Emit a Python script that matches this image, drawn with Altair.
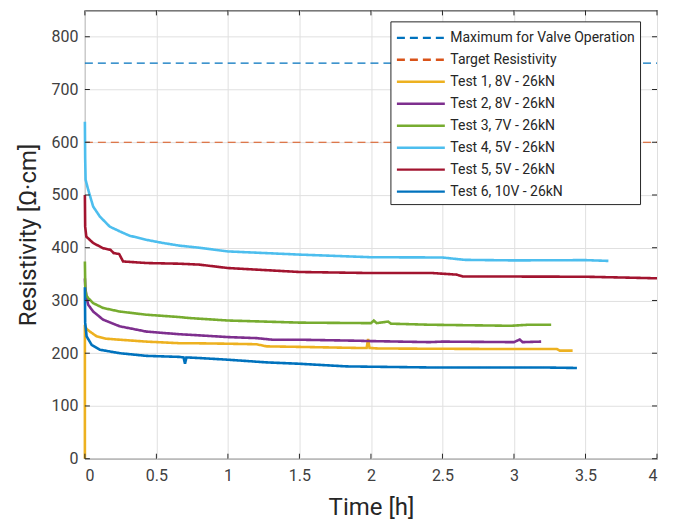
import altair as alt
import pandas as pd

FONT = "Roboto, Liberation Sans, sans-serif"

series_names = [
    "Maximum for Valve Operation",
    "Target Resistivity",
    "Test 1, 8V - 26kN",
    "Test 2, 8V - 26kN",
    "Test 3, 7V - 26kN",
    "Test 4, 5V - 26kN",
    "Test 5, 5V - 26kN",
    "Test 6, 10V - 26kN",
]
series_colors = ["#0072BD", "#D95319", "#EDB120", "#7E2F8E", "#77AC30", "#4DBEEE", "#A2142F", "#0072BD"]
series_dash = [[8, 5], [8, 5], [1, 0], [1, 0], [1, 0], [1, 0], [1, 0], [1, 0]]
series_width = [1.2, 1.2, 2.6, 2.6, 2.6, 2.6, 2.6, 2.6]

max_t = [0, 4]
max_v = [750, 750]
target_t = [0, 4]
target_v = [600, 600]

t1_t = [0, 0, 0.003, 0.012, 0.035, 0.082, 0.15, 0.244, 0.43, 0.66, 0.73, 1.0, 1.2, 1.27, 1.5, 1.9, 1.97, 1.98, 1.99, 2.05, 2.41, 2.9, 3.3, 3.32, 3.41]
t1_v = [0, 254, 250, 246, 241, 232, 227.5, 225.6, 222, 219, 219, 218, 217, 213, 212, 210, 210, 227, 210, 209, 208.5, 208, 208, 205, 205]

t2_t = [0, 0.003, 0.012, 0.023, 0.058, 0.128, 0.244, 0.43, 0.66, 0.73, 1.0, 1.2, 1.31, 1.5, 1.9, 2.0, 2.41, 2.5, 3.0, 3.04, 3.06, 3.19]
t2_v = [342, 325, 305, 292, 279, 263.5, 251, 241, 236, 235, 230.6, 228.6, 225.6, 225.6, 223.7, 223, 221, 222, 221, 226, 221, 222]

t3_t = [0, 0.003, 0.01, 0.023, 0.058, 0.128, 0.244, 0.43, 0.66, 0.73, 1.0, 1.5, 2.0, 2.02, 2.04, 2.12, 2.14, 2.41, 2.98, 3.1, 3.26]
t3_v = [374, 320, 310, 304.6, 295, 285.7, 279, 273, 268.6, 266.7, 262, 258, 257, 262, 257, 260, 256, 254, 252, 254, 254]

t4_t = [0, 0.002, 0.005, 0.023, 0.058, 0.105, 0.174, 0.244, 0.31, 0.43, 0.546, 0.66, 0.78, 1.0, 1.5, 2.0, 2.5, 2.62, 2.66, 3.0, 3.5, 3.66]
t4_v = [639, 570, 529, 510, 478, 459, 440, 431, 423, 415, 409, 404, 400.6, 393, 387, 382, 381.5, 378, 377, 376, 376.5, 375]

t5_t = [0, 0.002, 0.01, 0.058, 0.128, 0.18, 0.2, 0.24, 0.267, 0.43, 0.66, 0.8, 1.0, 1.5, 2.0, 2.43, 2.6, 2.64, 3.5, 3.85, 4.0]
t5_v = [500, 440, 421, 409, 399, 396, 390, 388, 374, 371, 369.7, 368, 361.5, 354, 352, 352, 349, 345.6, 345, 343, 342]

t6_t = [0, 0.002, 0.012, 0.047, 0.105, 0.244, 0.43, 0.66, 0.69, 0.70, 0.71, 0.79, 1.0, 1.27, 1.5, 1.83, 2.41, 2.9, 3.2, 3.44]
t6_v = [325, 258, 232, 216, 206.6, 200, 195, 193, 192, 180, 192, 191, 187.7, 182.6, 180, 175, 173, 173, 173, 172]

x_ticks = [0, 0.5, 1, 1.5, 2, 2.5, 3, 3.5, 4]
y_ticks = [0, 100, 200, 300, 400, 500, 600, 700, 800]

all_t = [max_t, target_t, t1_t, t2_t, t3_t, t4_t, t5_t, t6_t]
all_v = [max_v, target_v, t1_v, t2_v, t3_v, t4_v, t5_v, t6_v]

rows = []
for name, w, ts, vs in zip(series_names, series_width, all_t, all_v):
    for i, (t, v) in enumerate(zip(ts, vs)):
        rows.append({"series": name, "w": w, "t": t, "v": v, "idx": i})
df = pd.DataFrame(rows)

W, H = 573, 449

xscale = alt.Scale(domain=[0, 4], nice=False, zero=False)
yscale = alt.Scale(domain=[0, 850], nice=False)

x_axis = alt.Axis(values=x_ticks, format="~g", title="Time [h]", tickSize=0, labelPadding=9,
                  titleFontSize=24, titleFontWeight="normal", titlePadding=12, domain=False)
y_axis = alt.Axis(values=y_ticks, title="Resistivity [Ω·cm]", tickSize=0, labelPadding=7,
                  titleFontSize=24, titleFontWeight="normal", titlePadding=10, domain=False)

lines = alt.Chart(df).mark_line(interpolate="linear").encode(
    x=alt.X("t:Q", scale=xscale, axis=x_axis),
    y=alt.Y("v:Q", scale=yscale, axis=y_axis),
    color=alt.Color("series:N", scale=alt.Scale(domain=series_names, range=series_colors),
                    legend=alt.Legend(title=None, orient="none", legendX=306, legendY=11)),
    strokeDash=alt.StrokeDash("series:N", scale=alt.Scale(domain=series_names, range=series_dash)),
    strokeWidth=alt.StrokeWidth("w:Q", scale=None),
    order="idx:Q",
    detail="series:N",
)

xt = pd.DataFrame({"x": x_ticks})
yt = pd.DataFrame({"y": y_ticks})
tick_color = "#262626"
bt = alt.Chart(xt).mark_rule(color=tick_color, strokeWidth=1).encode(
    x=alt.X("x:Q", scale=xscale), y=alt.value(H), y2=alt.value(H - 5))
tt = alt.Chart(xt).mark_rule(color=tick_color, strokeWidth=1).encode(
    x=alt.X("x:Q", scale=xscale), y=alt.value(0), y2=alt.value(5))
lt = alt.Chart(yt).mark_rule(color=tick_color, strokeWidth=1).encode(
    y=alt.Y("y:Q", scale=yscale), x=alt.value(0), x2=alt.value(5))
rt = alt.Chart(yt).mark_rule(color=tick_color, strokeWidth=1).encode(
    y=alt.Y("y:Q", scale=yscale), x=alt.value(W), x2=alt.value(W - 5))

chart = alt.layer(lines, bt, tt, lt, rt).properties(
    width=W, height=H,
    autosize=alt.AutoSizeParams(type="none"),
    padding={"left": 77, "top": 2, "right": 8, "bottom": 62},
).configure_view(
    stroke="#262626", strokeWidth=1
).configure_axis(
    labelFont=FONT, titleFont=FONT, labelFontSize=16, labelColor="#404040",
    titleColor="#262626", gridColor="#e0e0e0", gridWidth=1,
).configure_legend(
    labelFont=FONT, labelFontSize=14, labelColor="#262626",
    symbolType="M-1,0L3.8,0", symbolSize=400, symbolStrokeWidth=2.4,
    strokeColor="#262626", fillColor="white", padding=5, rowPadding=3,
    labelOffset=32, labelLimit=400,
)

chart.save("out.html", embed_options={"renderer": "svg", "actions": False})
